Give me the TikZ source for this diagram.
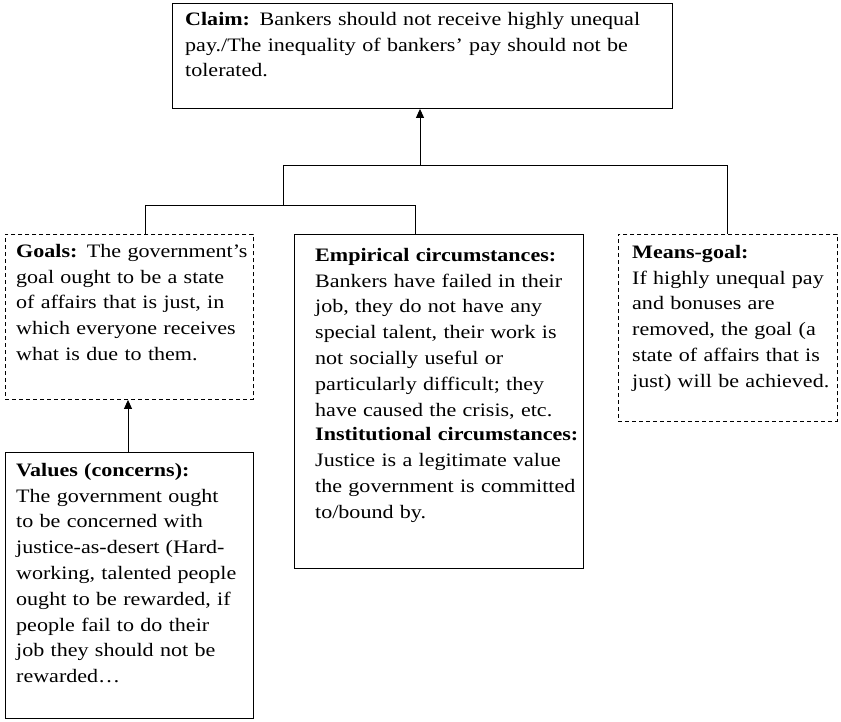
\documentclass[tikz,border=0pt]{standalone}
\usepackage{fontspec}
\setmainfont[FakeStretch=1.16]{Liberation Serif}
\usetikzlibrary{arrows.meta}
\begin{document}
\begin{tikzpicture}[x=1pt,y=-1pt,
  box/.style={draw,line width=0.9pt,anchor=north west,inner sep=0pt},
  dbox/.style={box,dashed,dash pattern=on 4pt off 3pt},
  txt/.style={anchor=north west,inner sep=0pt,align=left,font=\fontsize{19}{25.8}\selectfont},
  conn/.style={line width=0.9pt},
  arr/.style={conn,-{Triangle[length=9pt,width=8pt]}}]
\useasboundingbox (0,0) rectangle (841,722);
\node[box,minimum width=500pt,minimum height=105pt] (claim) at (172,3) {};
\node[dbox,minimum width=248pt,minimum height=165pt] (goals) at (5,234) {};
\node[box,minimum width=289pt,minimum height=334pt] (emp) at (294,234) {};
\node[dbox,minimum width=219pt,minimum height=187pt] (means) at (618,234) {};
\node[box,minimum width=248pt,minimum height=266pt] (vals) at (5,452) {};

\node[txt,text width=480pt] (tclaim) at (185,12) {\textbf{Claim:} Bankers should not receive highly unequal\\pay./The inequality of bankers’ pay should not be\\tolerated.};
\node[txt,text width=240pt] (tgoals) at (16,244) {\textbf{Goals:} The government’s\\goal ought to be a state\\of affairs that is just, in\\which everyone receives\\what is due to them.};
\node[txt,text width=280pt] (temp) at (315,248) {\textbf{Empirical circumstances:}\\Bankers have failed in their\\job, they do not have any\\special talent, their work is\\not socially useful or\\particularly difficult; they\\have caused the crisis, etc.\\[-1pt]\textbf{Institutional circumstances:}\\Justice is a legitimate value\\the government is committed\\to/bound by.};
\node[txt,text width=210pt] (tmeans) at (632,245) {\textbf{Means-goal:}\\If highly unequal pay\\and bonuses are\\removed, the goal (a\\state of affairs that is\\just) will be achieved.};
\node[txt,text width=240pt] (tvals) at (16,463) {\textbf{Values (concerns):}\\The government ought\\to be concerned with\\justice-as-desert (Hard-\\working, talented people\\ought to be rewarded, if\\people fail to do their\\job they should not be\\rewarded\ldots};

\coordinate (j) at (420,165);
\coordinate (jl) at (283,165);
\coordinate (jr) at (727,165);
\coordinate (k) at (283,205);
\coordinate (kl) at (145,205);
\coordinate (kr) at (415,205);
\draw[arr] (j) -- (claim.south -| j);
\draw[conn] (jl) -- (jr) -- (means.north -| jr);
\draw[conn] (jl) -- (k);
\draw[conn] (kl) -- (kr) -- (emp.north -| kr);
\draw[conn] (kl) -- (goals.north -| kl);
\draw[arr] (vals.north -| 128,0) -- (goals.south -| 128,0);
\end{tikzpicture}
\end{document}
